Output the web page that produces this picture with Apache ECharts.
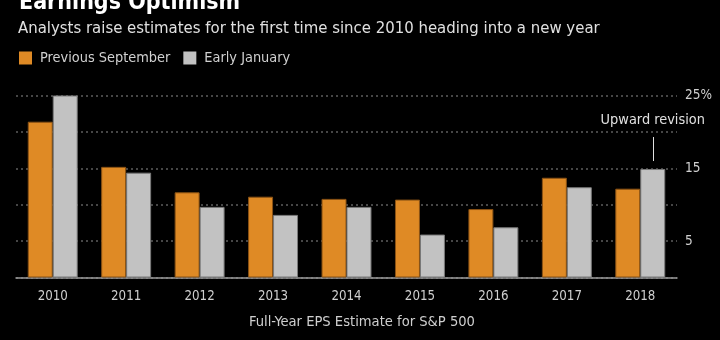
<!DOCTYPE html>
<html>
<head>
<meta charset="utf-8">
<script src="https://cdn.jsdelivr.net/npm/echarts@6/dist/echarts.min.js"></script>
<style>
  html, body { margin: 0; padding: 0; background: #000; }
  #chart { width: 720px; height: 340px; }
</style>
</head>
<body>
<div id="chart"></div>
<script>
// Full-year S&P 500 EPS growth estimates (%), by target year
const years = ['2010', '2011', '2012', '2013', '2014', '2015', '2016', '2017', '2018'];
const previousSeptember = [21.4, 15.2, 11.7, 11.1, 10.8, 10.7, 9.4, 13.7, 12.2];
const earlyJanuary = [25.0, 14.4, 9.7, 8.6, 9.7, 5.9, 6.9, 12.4, 14.9];
const yTickLabels = { 25: '25%', 15: '15', 5: '5' };

const FONT = "'DejaVu Sans Condensed', 'DejaVu Sans', sans-serif";
const ORANGE = '#df8a25';
const GREY = '#c2c2c2';

const chart = echarts.init(document.getElementById('chart'), null, { renderer: 'canvas' });

chart.setOption({
  backgroundColor: '#000',
  animation: false,
  textStyle: { fontFamily: FONT },
  graphic: [
    {
      type: 'text', left: 19, top: -8,
      style: { text: 'Earnings Optimism', fill: '#fff', font: "bold 23px " + FONT }
    },
    {
      type: 'text', left: 18, top: 20,
      style: { text: 'Analysts raise estimates for the first time since 2010 heading into a new year', fill: '#e0e0e0', font: "16.6px " + FONT }
    },
    {
      type: 'text', left: 249, top: 315,
      style: { text: 'Full-Year EPS Estimate for S&P 500', fill: '#cfcfcf', font: "14.6px " + FONT }
    }
  ],
  legend: {
    left: 19, top: 51, padding: 0,
    icon: 'rect', itemWidth: 13, itemHeight: 13, itemGap: 13,
    itemStyle: { borderWidth: 0 },
    textStyle: { color: '#d0d0d0', fontSize: 14.4, fontFamily: FONT, padding: [0, 0, 0, 3] },
    data: ['Previous September', 'Early January']
  },
  grid: { left: 16, right: 43, top: 95.5, bottom: 62.5 },
  xAxis: {
    type: 'category',
    data: years,
    axisLine: { lineStyle: { color: '#9a9a9a', width: 1.5 } },
    axisTick: { alignWithLabel: true, length: 6, lineStyle: { color: '#9a9a9a' } },
    axisLabel: { color: '#cfcfcf', fontSize: 13.2, margin: 13 }
  },
  yAxis: {
    type: 'value',
    position: 'right',
    min: 0, max: 25, interval: 5,
    axisLine: { show: false },
    axisTick: { show: false },
    axisLabel: {
      color: '#d0d0d0', fontSize: 13.5, margin: 8,
      formatter: v => yTickLabels[v] || ''
    },
    splitLine: { lineStyle: { color: '#5e5e5e', type: [2, 3], width: 1.5 } }
  },
  series: [
    {
      name: 'Previous September',
      type: 'bar',
      data: previousSeptember,
      barWidth: '34%',
      barGap: '0%',
      itemStyle: { color: ORANGE, borderColor: '#8a5214', borderWidth: 1 }
    },
    {
      name: 'Early January',
      type: 'bar',
      data: earlyJanuary,
      barWidth: '34%',
      itemStyle: { color: GREY, borderColor: '#7a7a7a', borderWidth: 1 },
      markLine: {
        silent: true,
        symbol: 'none',
        lineStyle: { color: '#e0e0e0', width: 1, type: 'solid' },
        label: {
          show: true, position: 'end', distance: 10,
          color: '#e0e0e0', fontSize: 14.4, fontFamily: FONT,
          formatter: 'Upward revision'
        },
        data: [[{ coord: ['2018', 16.0] }, { coord: ['2018', 19.3] }]]
      }
    }
  ]
});
</script>
</body>
</html>
